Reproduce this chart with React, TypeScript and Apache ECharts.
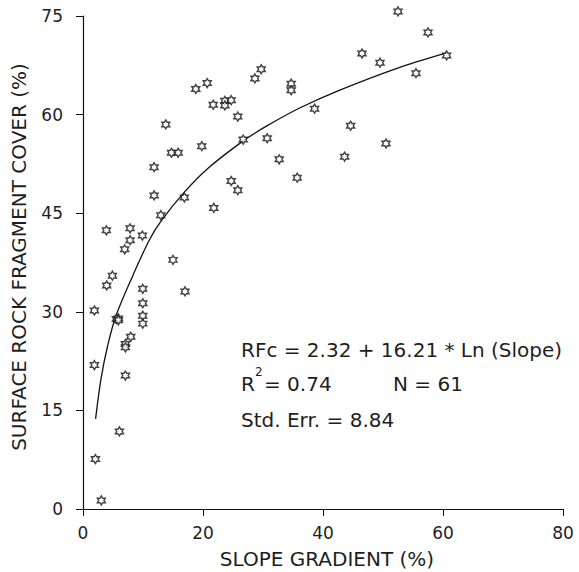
import React, { useEffect, useRef } from "react";
import * as echarts from "echarts";

// Observed points: slope gradient (%) and surface rock fragment cover (%)
const slopeValues = [
  3.9, 7.85, 7.85, 6.95, 9.9, 15.0, 11.85, 11.85, 12.97, 13.8,
  14.75, 15.86, 16.9, 18.8, 20.7, 19.8, 21.7, 23.65, 23.65, 24.7,
  25.8, 21.8, 24.7, 25.8, 26.7, 28.65, 29.7, 30.7, 32.7, 34.7,
  34.7, 35.7, 38.6, 52.5, 57.5, 46.5, 49.5, 60.6, 55.5, 44.6,
  50.5, 43.6, 4.9, 3.95, 9.96, 9.96, 9.96, 9.96, 17.0, 1.9,
  5.56, 5.9, 5.9, 7.96, 7.07, 7.07, 1.9, 7.07, 6.07, 2.06,
  3.05,
];
const coverValues = [
  42.4, 42.7, 40.9, 39.5, 41.6, 37.9, 52.0, 47.7, 44.7, 58.5,
  54.2, 54.2, 47.4, 63.9, 64.8, 55.2, 61.5, 62.1, 61.4, 62.2,
  59.7, 45.8, 49.9, 48.5, 56.2, 65.5, 66.9, 56.4, 53.2, 64.7,
  63.7, 50.4, 60.9, 75.7, 72.5, 69.3, 67.9, 69.0, 66.3, 58.3,
  55.6, 53.6, 35.5, 34.0, 33.5, 31.3, 29.4, 28.2, 33.1, 30.2,
  28.9, 29.0, 28.7, 26.2, 25.1, 24.6, 21.9, 20.3, 11.8, 7.6,
  1.3,
];

// Fitted curve
const fitSlope = [2.1, 3.0, 4.1, 5.5, 8.3, 11.1, 13.0, 16.9, 20.8, 26.7, 30.5, 36.1, 42.7, 52.8, 60.6];
const fitCover = [13.7, 19.8, 24.8, 29.4, 35.5, 41.0, 43.8, 48.2, 51.8, 56.0, 58.2, 61.0, 63.7, 67.2, 69.4];

// Axis ranges / ticks
const xTickValues = [0, 20, 40, 60, 80];
const yTickValues = [0, 15, 30, 45, 60, 75];

const xTitle = "SLOPE GRADIENT (%)";
const yTitle = "SURFACE ROCK FRAGMENT COVER (%)";
const eqLine1 = "RFc = 2.32 + 16.21 * Ln (Slope)";
const eqLine3 = "Std. Err. = 8.84";

const STAR =
  "path://M0,-100L28.9,-50L86.6,-50L57.7,0L86.6,50L28.9,50L0,100L-28.9,50L-86.6,50L-57.7,0L-86.6,-50L-28.9,-50Z";

export default function App() {
  const ref = useRef<HTMLDivElement>(null);

  useEffect(() => {
    document.body.style.margin = "0";
    if (!ref.current) return;
    const chart = echarts.init(ref.current, null, { renderer: "svg" });
    const font = "DejaVu Sans";
    const textColor = "#1e1e1e";
    const axisCommon = {
      axisLine: { show: true, onZero: false, lineStyle: { color: "#111", width: 1.2 } },
      axisTick: { show: true, inside: false, length: 7, lineStyle: { color: "#111", width: 1 } },
      splitLine: { show: false },
    };
    chart.setOption({
      animation: false,
      backgroundColor: "#ffffff",
      grid: { left: 83, right: 16, top: 16, bottom: 63 },
      xAxis: {
        type: "value",
        min: xTickValues[0],
        max: xTickValues[xTickValues.length - 1],
        interval: xTickValues[1] - xTickValues[0],
        ...axisCommon,
        axisLabel: { color: textColor, fontSize: 17, fontFamily: font, margin: 15 },
      },
      yAxis: {
        type: "value",
        min: yTickValues[0],
        max: yTickValues[yTickValues.length - 1],
        interval: yTickValues[1] - yTickValues[0],
        ...axisCommon,
        axisLabel: { color: textColor, fontSize: 17, fontFamily: font, margin: 20 },
      },
      series: [
        {
          type: "line",
          data: fitSlope.map((s, i) => [s, fitCover[i]]),
          showSymbol: false,
          symbol: "none",
          smooth: 0.35,
          clip: false,
          lineStyle: { color: "#111", width: 1.3 },
          z: 2,
        },
        {
          type: "scatter",
          data: slopeValues.map((s, i) => [s, coverValues[i]]),
          symbol: STAR,
          symbolSize: [8, 9],
          clip: false,
          itemStyle: { color: "#ffffff", borderColor: "#111", borderWidth: 1.4 },
          z: 3,
        },
      ],
      graphic: [
        {
          type: "text",
          x: 327,
          y: 559,
          style: {
            text: xTitle,
            font: `20px "${font}"`,
            fill: textColor,
            align: "center",
            verticalAlign: "middle",
          },
        },
        {
          type: "text",
          x: 19,
          y: 257,
          rotation: Math.PI / 2,
          style: {
            text: yTitle,
            font: `20px "${font}"`,
            fill: textColor,
            align: "center",
            verticalAlign: "middle",
          },
        },
        {
          type: "text",
          x: 241,
          y: 350,
          style: { text: eqLine1, font: `20px "${font}"`, fill: textColor, align: "left", verticalAlign: "middle" },
        },
        {
          type: "text",
          x: 241,
          y: 384,
          style: { text: "R", font: `20px "${font}"`, fill: textColor, align: "left", verticalAlign: "middle" },
        },
        {
          type: "text",
          x: 255,
          y: 372,
          style: { text: "2", font: `12px "${font}"`, fill: textColor, align: "left", verticalAlign: "middle" },
        },
        {
          type: "text",
          x: 264,
          y: 384,
          style: { text: "= 0.74", font: `20px "${font}"`, fill: textColor, align: "left", verticalAlign: "middle" },
        },
        {
          type: "text",
          x: 393,
          y: 384,
          style: { text: "N = 61", font: `20px "${font}"`, fill: textColor, align: "left", verticalAlign: "middle" },
        },
        {
          type: "text",
          x: 241,
          y: 420,
          style: { text: eqLine3, font: `20px "${font}"`, fill: textColor, align: "left", verticalAlign: "middle" },
        },
      ],
    });
    return () => chart.dispose();
  }, []);

  return <div ref={ref} style={{ width: 579, height: 572 }} />;
}
